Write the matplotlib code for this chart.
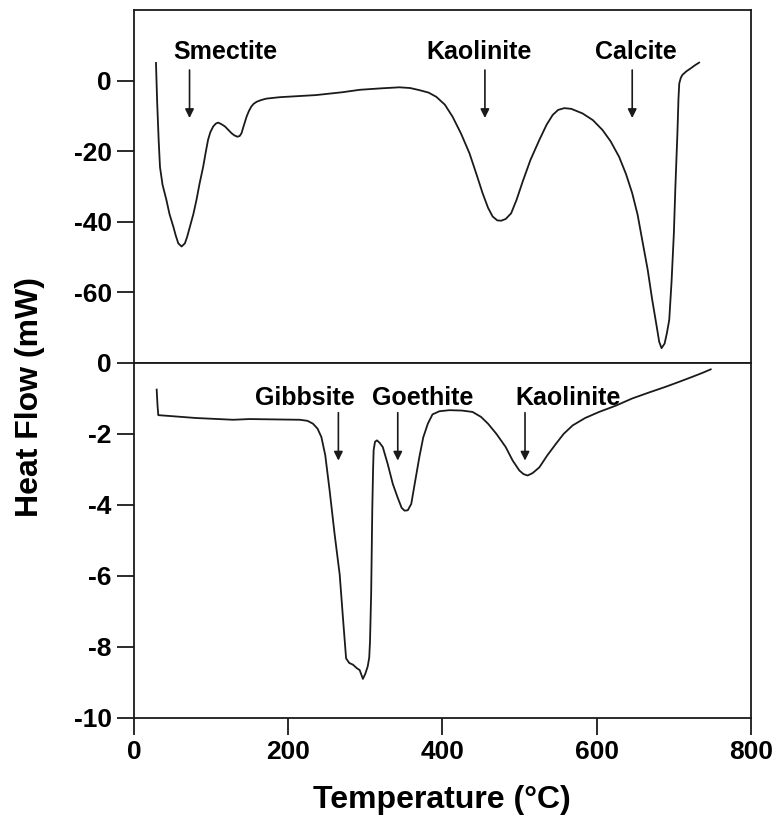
import matplotlib
matplotlib.use("Agg")
from matplotlib import pyplot as plt

plt.rcParams['font.family'] = ['Liberation Sans', 'DejaVu Sans']
plt.rcParams['font.weight'] = 'bold'
plt.rcParams['axes.unicode_minus'] = False

# upper DSC trace (temperature in degC, heat flow in mW)
top_temp = [28.5, 30, 32, 33.7, 37, 42, 46, 51, 54, 57.4, 61.7, 66, 69, 72.5, 77, 81, 85, 89.7,
            93, 96, 99, 102.7, 106, 109, 113, 118, 122, 126.4, 130, 134, 137, 139.4, 142, 146,
            149, 152, 155, 159, 165, 171.8, 189, 236, 270, 293, 320, 344, 358, 370, 382, 392,
            403, 413, 424, 435, 444, 452, 459, 465, 471, 476, 482, 489, 496, 504, 514, 525.6,
            535, 543, 550, 558, 567, 581.6, 595, 607.5, 618, 629, 638, 646, 653, 659, 666, 672,
            678, 681, 684, 688, 691, 694, 697, 700, 702, 704.6, 706, 707, 709, 711, 716, 722,
            727, 732.7]
top_flow = [5.0, -6, -17, -24.5, -29.5, -33.8, -37.8, -41.4, -43.8, -46.1, -47.0, -46.1, -44.2,
            -41.4, -37.8, -33.8, -29.2, -24.4, -20.3, -16.8, -14.6, -13.0, -12.2, -11.9, -12.3,
            -13.0, -13.9, -14.9, -15.5, -15.9, -15.7, -14.9, -13.0, -10.2, -8.6, -7.4, -6.6,
            -6.0, -5.5, -5.1, -4.7, -4.1, -3.3, -2.6, -2.2, -1.9, -2.1, -2.7, -3.4, -4.6, -6.8,
            -10.2, -15.0, -20.6, -26.5, -31.9, -36.0, -38.5, -39.6, -39.7, -39.2, -37.6, -33.8,
            -28.6, -22.5, -16.8, -12.5, -9.7, -8.3, -7.8, -8.0, -9.3, -11.2, -14.0, -17.2, -21.6,
            -26.5, -31.9, -38.0, -45.2, -53.5, -62.2, -70.0, -74.0, -75.8, -74.5, -71.5, -67.8,
            -57.0, -43.3, -30.0, -14.9, -5.0, -0.8, 0.8, 1.6, 2.6, 3.5, 4.3, 5.1]

# lower DSC trace
bot_temp = [29.4, 30.5, 31.5, 50, 80, 128.5, 150, 215, 225, 232, 238, 243, 248, 253.7, 260,
            266.7, 271, 275, 279, 284, 289, 292.6, 296.8, 300, 303, 305, 306, 307.5, 309, 310,
            310.7, 312.5, 315, 318.5, 322.6, 329, 335.6, 342, 347, 350.8, 355, 359.5, 364, 370,
            375, 381, 387, 396, 409, 425, 439, 450, 459, 470, 482, 491, 499.7, 505, 510.4, 517,
            525.6, 536, 547, 557, 568.7, 585, 603, 625, 646, 668, 689.5, 707, 724, 737, 747.8]
bot_flow = [-0.75, -1.2, -1.47, -1.5, -1.55, -1.6, -1.58, -1.6, -1.63, -1.71, -1.85, -2.09, -2.6,
            -3.6, -4.8, -5.96, -7.2, -8.32, -8.45, -8.5, -8.6, -8.65, -8.9, -8.75, -8.55, -8.3,
            -7.85, -6.5, -4.07, -3.0, -2.46, -2.22, -2.18, -2.25, -2.37, -2.85, -3.41, -3.8,
            -4.08, -4.16, -4.15, -3.97, -3.4, -2.65, -2.1, -1.71, -1.45, -1.36, -1.33, -1.34,
            -1.38, -1.52, -1.71, -2.0, -2.37, -2.75, -3.03, -3.13, -3.17, -3.1, -2.94, -2.6,
            -2.28, -2.0, -1.76, -1.55, -1.38, -1.2, -1.0, -0.83, -0.67, -0.53, -0.39, -0.28,
            -0.18]

top_labels = ["Smectite", "Kaolinite", "Calcite"]
top_label_x = [118, 448, 651]
top_arrow_x = [72, 455, 646]

bot_labels = ["Gibbsite", "Goethite", "Kaolinite"]
bot_label_x = [221, 374, 563]
bot_arrow_x = [265, 342, 507]

fig = plt.figure(figsize=(7.8, 8.21), dpi=100)
ax_top = fig.add_axes([0.1718, 0.5579, 0.7910, 0.4299])
ax_bot = fig.add_axes([0.1718, 0.1255, 0.7910, 0.4324])

line_kw = dict(color="#1a1a1a", lw=1.3)
ax_top.plot(top_temp, top_flow, **line_kw)
ax_bot.plot(bot_temp, bot_flow, **line_kw)

ax_top.set_xlim(0, 800)
ax_top.set_ylim(-80, 20)
ax_bot.set_xlim(0, 800)
ax_bot.set_ylim(-10, 0)

ax_top.set_xticks([])
ax_top.set_yticks([-60, -40, -20, 0])
ax_bot.set_xticks([0, 200, 400, 600, 800])
ax_bot.set_yticks([-10, -8, -6, -4, -2, 0])

for ax in (ax_top, ax_bot):
    for sp in ax.spines.values():
        sp.set_linewidth(1.3)
        sp.set_color("#1a1a1a")
    ax.tick_params(direction="out", length=12, width=1.3, labelsize=19, pad=4, color="#1a1a1a")

arrow_kw = dict(arrowstyle="-|>", color="#1a1a1a", lw=1.2, mutation_scale=13, shrinkA=0, shrinkB=0)
for lab, lx, axx in zip(top_labels, top_label_x, top_arrow_x):
    ax_top.text(lx, 8.1, lab, ha="center", va="center", fontsize=18, fontweight="bold")
    ax_top.annotate("", xy=(axx, -10.6), xytext=(axx, 3.0), arrowprops=arrow_kw)

for lab, lx, axx in zip(bot_labels, bot_label_x, bot_arrow_x):
    ax_bot.text(lx, -0.99, lab, ha="center", va="center", fontsize=18, fontweight="bold")
    ax_bot.annotate("", xy=(axx, -2.75), xytext=(axx, -1.4), arrowprops=arrow_kw)

fig.text(0.567, 0.025, "Temperature (°C)", ha="center", va="center", fontsize=23, fontweight="bold")
fig.text(0.038, 0.516, "Heat Flow (mW)", ha="center", va="center", rotation=90,
         fontsize=23, fontweight="bold")

plt.savefig("out.png", dpi=100)
